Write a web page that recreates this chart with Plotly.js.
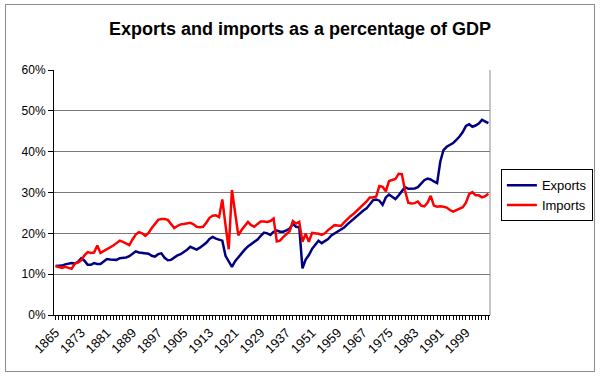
<!DOCTYPE html>
<html>
<head>
<meta charset="utf-8">
<script src="https://cdn.plot.ly/plotly-3.0.1.min.js"></script>
<style>
  html, body { margin: 0; padding: 0; background: #fff; }
  #wrap { position: relative; width: 600px; height: 376px; }
  #chart { width: 600px; height: 376px; }
  #frame { position: absolute; left: 5px; top: 4px; width: 588px; height: 366px;
           border: 1px solid #8c8c8c; pointer-events: none; }
</style>
</head>
<body>
<div id="wrap">
  <div id="chart"></div>
  <div id="frame"></div>
</div>
<script>
// Years (category axis; 1939-1944 absent from the series)
const years = [];
for (let y = 1865; y <= 1938; y++) years.push(y);
for (let y = 1945; y <= 2006; y++) years.push(y);

// Exports as % of GDP
const exportsPct = [
  12.0, 12.1, 12.1, 12.4, 12.6, 12.7, 12.6, 13.0, 13.9, 13.3,
  12.3, 12.3, 12.7, 12.5, 12.5, 13.2, 13.7, 13.6, 13.6, 13.5,
  13.9, 14.0, 14.1, 14.4, 15.0, 15.6, 15.3, 15.2, 15.2, 15.0,
  14.5, 14.3, 14.9, 15.1, 14.0, 13.4, 13.5, 14.1, 14.6, 14.9,
  15.4, 16.0, 16.7, 16.3, 16.0, 16.5, 17.0, 17.7, 18.6, 19.1,
  18.7, 18.5, 18.2, 14.5, 13.0, 11.8, 13.2, 14.2, 15.0, 16.0,
  16.8, 17.3, 17.9, 18.5, 19.4, 20.2, 20.0, 19.6, 20.4, 20.7,
  20.4, 20.4, 20.7, 21.2, 22.3, 21.6, 21.5, 11.4, 13.6, 14.7,
  16.2, 17.3, 18.2, 17.6, 18.0, 18.6, 19.5, 20.0, 20.4, 20.8,
  21.4, 22.2, 22.9, 23.4, 24.2, 24.9, 25.6, 26.1, 27.2, 28.1,
  28.3, 28.0, 27.0, 28.8, 29.5, 29.0, 28.4, 29.3, 30.3, 31.3,
  30.9, 30.9, 31.0, 31.3, 32.1, 33.0, 33.4, 33.2, 32.7, 32.3,
  37.6, 40.4, 41.2, 41.6, 42.1, 42.9, 43.7, 44.8, 46.3, 46.7,
  46.1, 46.4, 46.9, 47.8, 47.3, 47.0
];

// Imports as % of GDP
const importsPct = [
  12.0, 11.8, 11.5, 11.8, 11.6, 11.3, 12.6, 12.9, 13.4, 14.6,
  15.4, 15.2, 15.3, 17.0, 15.2, 15.6, 16.0, 16.5, 17.0, 17.6,
  18.2, 17.9, 17.5, 17.1, 18.5, 19.7, 20.3, 20.0, 19.4, 20.1,
  21.3, 22.4, 23.3, 23.5, 23.5, 23.3, 22.2, 21.3, 21.8, 22.2,
  22.3, 22.4, 22.6, 22.2, 21.6, 21.5, 21.6, 22.6, 23.8, 24.3,
  24.4, 24.0, 28.3, 22.0, 16.1, 30.6, 25.0, 19.5, 20.8, 21.8,
  22.8, 22.0, 21.6, 22.3, 22.9, 22.9, 22.8, 23.0, 23.6, 18.0,
  18.2, 19.1, 19.7, 20.5, 23.0, 22.4, 22.8, 17.9, 19.9, 17.9,
  20.1, 20.0, 19.9, 19.6, 20.0, 20.8, 21.3, 22.0, 21.9, 21.8,
  22.7, 23.5, 24.2, 24.8, 25.5, 26.2, 26.9, 27.8, 28.8, 28.8,
  29.0, 31.6, 31.4, 30.3, 32.8, 33.1, 33.3, 34.6, 34.5, 30.5,
  27.5, 27.3, 27.4, 27.8, 26.8, 26.6, 27.5, 29.2, 26.8, 26.5,
  26.6, 26.5, 26.3, 25.7, 25.3, 25.7, 26.0, 26.4, 27.5, 29.6,
  30.1, 29.3, 29.3, 28.8, 29.1, 29.7
];

const yTicks = [0, 10, 20, 30, 40, 50, 60];
const yTickText = yTicks.map(v => v + '%');
const labelStep = 8;

const idx = years.map((_, i) => i);
const tickIdx = idx.filter(i => i % labelStep === 0);
const tickText = tickIdx.map(i => String(years[i]));

const FONT = '"Liberation Sans", Arial, sans-serif';

const traces = [
  { x: idx, y: exportsPct, name: 'Exports', type: 'scatter', mode: 'lines',
    line: { color: '#000080', width: 2.5 }, text: years, hoverinfo: 'text+y' },
  { x: idx, y: importsPct, name: 'Imports', type: 'scatter', mode: 'lines',
    line: { color: '#ff0000', width: 2.5 }, text: years, hoverinfo: 'text+y' }
];

const layout = {
  width: 600, height: 376,
  margin: { l: 54, r: 110, t: 70, b: 61, autoexpand: false },
  paper_bgcolor: '#fff', plot_bgcolor: '#fff',
  font: { family: FONT, size: 12, color: '#000' },
  title: { text: '<b>Exports and imports as a percentage of GDP</b>',
           font: { family: FONT, size: 18, color: '#000' },
           x: 0.5, xanchor: 'center', y: 0.923, yanchor: 'middle' },
  xaxis: {
    type: 'linear', range: [-0.5, years.length - 0.5],
    tickmode: 'array', tickvals: tickIdx, ticktext: tickText,
    tickangle: -45, ticks: 'outside', ticklen: 4, tickcolor: '#000',
    minor: { ticks: 'outside', dtick: 1, tick0: 0, ticklen: 4, tickcolor: '#000', showgrid: false },
    showline: true, linecolor: '#000', linewidth: 1,
    showgrid: false, zeroline: false, automargin: false,
    tickfont: { family: FONT, size: 13, color: '#000' }
  },
  yaxis: {
    range: [0, 60], tickmode: 'array', tickvals: yTicks, ticktext: yTickText,
    ticks: 'outside', ticklen: 5, tickcolor: '#000',
    showline: true, linecolor: '#000', linewidth: 1,
    showgrid: true, gridcolor: '#7a7a7a', gridwidth: 1, zeroline: false, automargin: false,
    tickfont: { family: FONT, size: 12, color: '#000' }
  },
  shapes: [
    { type: 'line', xref: 'paper', yref: 'paper', x0: 1, x1: 1, y0: 0, y1: 1,
      line: { color: '#8c8c8c', width: 1 }, layer: 'below' }
  ],
  showlegend: true,
  legend: {
    x: 1.025, xanchor: 'left', y: 0.595, yanchor: 'top',
    bordercolor: '#000', borderwidth: 1, bgcolor: '#fff',
    font: { family: FONT, size: 13, color: '#000' },
    tracegroupgap: 0, itemwidth: 30
  }
};

Plotly.newPlot('chart', traces, layout, { displayModeBar: false, staticPlot: true });
</script>
</body>
</html>
